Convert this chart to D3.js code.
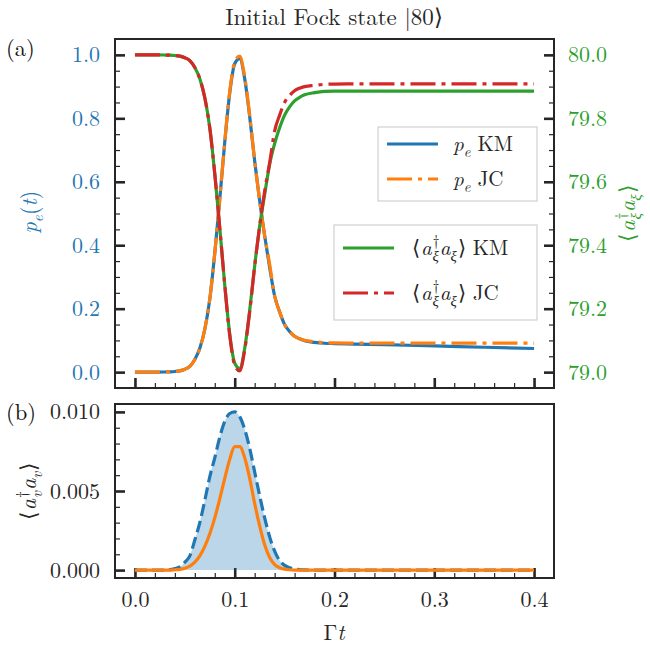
<!DOCTYPE html>
<html lang="en">
<head>
    <meta charset="UTF-8">
    <title>Initial Fock state |80⟩</title>
    <script src="https://d3js.org/d3.v7.min.js"></script>
    <style>
        body { margin: 0; background: white; }
        svg { display: block; }
        svg text { font-family: "Latin Modern Roman", "Liberation Serif", serif; }
        .domain { display: none; }
    </style>
</head>
<body>
    <svg width="650" height="647"></svg>
    <script>
        // time grid (Γt)
        const t = [0, 0.01, 0.02, 0.03, 0.035, 0.04, 0.045, 0.05, 0.055, 0.06, 0.065, 0.07, 0.075, 0.08,
            0.085, 0.09, 0.095, 0.1, 0.105, 0.11, 0.115, 0.12, 0.125, 0.13, 0.135, 0.14, 0.145, 0.15,
            0.155, 0.16, 0.165, 0.17, 0.18, 0.19, 0.2, 0.22, 0.25, 0.3, 0.35, 0.4];

        // (a) excited state population
        const peKM = [0, 0, 0, 0.0005, 0.001, 0.002, 0.004, 0.009, 0.018, 0.04, 0.075, 0.135, 0.23, 0.375,
            0.545, 0.725, 0.88, 0.972, 0.988, 0.925, 0.805, 0.665, 0.54, 0.43, 0.33, 0.24, 0.19, 0.15,
            0.128, 0.113, 0.105, 0.099, 0.094, 0.091, 0.09, 0.0885, 0.0865, 0.0825, 0.0785, 0.0745];
        const peJC = [0, 0, 0, 0.0005, 0.001, 0.002, 0.004, 0.009, 0.018, 0.04, 0.075, 0.135, 0.23, 0.375,
            0.545, 0.725, 0.885, 0.978, 0.996, 0.93, 0.81, 0.665, 0.54, 0.43, 0.34, 0.24, 0.19, 0.15,
            0.128, 0.113, 0.105, 0.1, 0.096, 0.093, 0.092, 0.0915, 0.0915, 0.0915, 0.0915, 0.0915];

        // (a) cavity photon number
        const nKM = [80, 80, 80, 79.9995, 79.999, 79.998, 79.996, 79.991, 79.982, 79.96, 79.925, 79.865, 79.77,
            79.625, 79.455, 79.275, 79.12, 79.028, 79.012, 79.075, 79.195, 79.335, 79.46, 79.56, 79.655,
            79.72, 79.77, 79.81, 79.836, 79.855, 79.866, 79.874, 79.881, 79.885, 79.886, 79.886, 79.886,
            79.886, 79.886, 79.886];
        const nJC = [80, 80, 80, 79.9995, 79.999, 79.998, 79.996, 79.991, 79.982, 79.96, 79.925, 79.865, 79.77,
            79.625, 79.455, 79.275, 79.115, 79.022, 79.004, 79.07, 79.19, 79.335, 79.46, 79.57, 79.66,
            79.76, 79.81, 79.85, 79.872, 79.887, 79.895, 79.9, 79.904, 79.907, 79.908, 79.9085, 79.9085,
            79.9085, 79.9085, 79.9085];

        // (b) photons in the v mode
        const nvKM = [0, 0, 0, 0, 0.00003, 0.0001, 0.0002, 0.0005, 0.0009, 0.0019, 0.003, 0.0044, 0.0059,
            0.0071, 0.0084, 0.0094, 0.0099, 0.01, 0.0097, 0.0089, 0.0077, 0.0062, 0.0047, 0.0033, 0.0021,
            0.0012, 0.0006, 0.0003, 0.00015, 0.00007, 0.00003, 0.00001, 0, 0, 0, 0, 0, 0, 0, 0];
        const nvJC = [0, 0, 0, 0, 0, 0.00002, 0.00005, 0.00012, 0.00025, 0.0005, 0.0009, 0.0015, 0.0023,
            0.0033, 0.0045, 0.0058, 0.007, 0.0078, 0.0078, 0.0071, 0.0058, 0.0042, 0.0028, 0.0016, 0.0008,
            0.00035, 0.00015, 0.00006, 0.00002, 0, 0, 0, 0, 0, 0, 0, 0, 0, 0, 0];

        const xTicks = [0, 0.1, 0.2, 0.3, 0.4];
        const peTicks = [0, 0.2, 0.4, 0.6, 0.8, 1.0];
        const nTicks = [79.0, 79.2, 79.4, 79.6, 79.8, 80.0];
        const nvTicks = [0, 0.005, 0.01];

        const C = { blue: "#1f77b4", orange: "#ff7f0e", green: "#2ca02c", red: "#d62728", ink: "#262626" };
        const FS = 22;
        const SERIF = "'Latin Modern Roman', 'Liberation Serif', serif";

        const svg = d3.select("svg");
        const L = 115, R = 554;
        const top1 = 39, bot1 = 388, top2 = 404, bot2 = 578;

        const x = d3.scaleLinear().domain([-0.02, 0.42]).range([L, R]);
        const yPe = d3.scaleLinear().domain([-0.05, 1.05]).range([bot1, top1]);
        const yN = d3.scaleLinear().domain([78.95, 80.05]).range([bot1, top1]);
        const yV = d3.scaleLinear().domain([-0.0005, 0.0105]).range([bot2, top2]);

        const xMinor = d3.range(0, 0.4001, 0.02);

        // inward ticks (axis flipped to the inside), labels drawn by a second axis
        function ticks(axisFn, scale, major, minor, pos) {
            const g = svg.append("g").attr("transform", pos);
            g.append("g").call(axisFn(scale).tickValues(minor).tickSize(5).tickFormat(""))
                .selectAll("line").attr("stroke", C.ink).attr("stroke-width", 1.2);
            g.append("g").call(axisFn(scale).tickValues(major).tickSize(10).tickFormat(""))
                .selectAll("line").attr("stroke", C.ink).attr("stroke-width", 2.6);
            return g;
        }
        function labels(axisFn, scale, major, pos, fmt, color, pad) {
            const g = svg.append("g").attr("transform", pos)
                .call(axisFn(scale).tickValues(major).tickSize(0).tickPadding(pad).tickFormat(fmt));
            g.selectAll("text").style("font-family", SERIF).style("font-size", FS + "px").attr("fill", color);
            return g;
        }

        // ---- panel (a) ----
        ticks(d3.axisTop, x, xTicks, xMinor, `translate(0,${bot1})`);
        ticks(d3.axisRight, yPe, peTicks, d3.range(0, 1.0001, 0.05), `translate(${L},0)`);
        ticks(d3.axisLeft, yN, nTicks, d3.range(79, 80.0001, 0.05), `translate(${R},0)`);
        labels(d3.axisLeft, yPe, peTicks, `translate(${L},0)`, d3.format(".1f"), C.blue, 15);
        labels(d3.axisRight, yN, nTicks, `translate(${R},0)`, d3.format(".1f"), C.green, 14);

        svg.append("clipPath").attr("id", "clipA").append("rect")
            .attr("x", L).attr("y", top1).attr("width", R - L).attr("height", bot1 - top1);
        svg.append("clipPath").attr("id", "clipB").append("rect")
            .attr("x", L).attr("y", top2).attr("width", R - L).attr("height", bot2 - top2);

        const gA = svg.append("g").attr("clip-path", "url(#clipA)");
        const linePe = d3.line().x((d, i) => x(t[i])).y(d => yPe(d)).curve(d3.curveMonotoneX);
        const lineN = d3.line().x((d, i) => x(t[i])).y(d => yN(d)).curve(d3.curveMonotoneX);

        gA.append("path").attr("d", linePe(peKM)).attr("fill", "none")
            .attr("stroke", C.blue).attr("stroke-width", 3.2);
        gA.append("path").attr("d", linePe(peJC)).attr("fill", "none")
            .attr("stroke", C.orange).attr("stroke-width", 3.2).attr("stroke-dasharray", "25,6,4,6");
        gA.append("path").attr("d", lineN(nKM)).attr("fill", "none")
            .attr("stroke", C.green).attr("stroke-width", 3.2);
        gA.append("path").attr("d", lineN(nJC)).attr("fill", "none")
            .attr("stroke", C.red).attr("stroke-width", 3.2).attr("stroke-dasharray", "25,6,4,6");

        svg.append("rect").attr("x", L).attr("y", top1).attr("width", R - L).attr("height", bot1 - top1)
            .attr("fill", "none").attr("stroke", C.ink).attr("stroke-width", 2);

        // ---- panel (b) ----
        ticks(d3.axisTop, x, xTicks, xMinor, `translate(0,${bot2})`);
        ticks(d3.axisRight, yV, nvTicks, d3.range(0, 0.01001, 0.001), `translate(${L},0)`);
        labels(d3.axisLeft, yV, nvTicks, `translate(${L},0)`, d3.format(".3f"), C.ink, 15);
        labels(d3.axisBottom, x, xTicks, `translate(0,${bot2})`, d3.format(".1f"), C.ink, 13);

        const gB = svg.append("g").attr("clip-path", "url(#clipB)");
        const area = d3.area().x((d, i) => x(t[i])).y0(yV(0)).y1(d => yV(d)).curve(d3.curveMonotoneX);
        const lineV = d3.line().x((d, i) => x(t[i])).y(d => yV(d)).curve(d3.curveMonotoneX);
        gB.append("path").attr("d", area(nvKM)).attr("fill", C.blue).attr("fill-opacity", 0.3);
        gB.append("path").attr("d", lineV(nvKM)).attr("fill", "none")
            .attr("stroke", C.blue).attr("stroke-width", 3.2).attr("stroke-dasharray", "12,5");
        gB.append("path").attr("d", lineV(nvJC)).attr("fill", "none")
            .attr("stroke", C.orange).attr("stroke-width", 3.2);

        svg.append("rect").attr("x", L).attr("y", top2).attr("width", R - L).attr("height", bot2 - top2)
            .attr("fill", "none").attr("stroke", C.ink).attr("stroke-width", 2);

        // ---- math-ish text helper ----
        // parts: [text, style, dx] ; style: i italic, sub, sup
        function math(g, parts, size) {
            const txt = g.append("text").style("font-family", SERIF).attr("font-size", size);
            let level = 0;
            parts.forEach(p => {
                const [s, st = ""] = p;
                const sp = txt.append("tspan").text(s);
                if (st.includes("i")) sp.attr("font-style", "italic");
                let target = 0, fs = size;
                if (st.includes("sub")) { target = 0.28 * size; fs = 0.7 * size; }
                if (st.includes("sup")) { target = -0.42 * size; fs = 0.72 * size; }
                sp.attr("font-size", fs);
                if (target !== level) { sp.attr("dy", target - level); level = target; }
                if (p[2] !== undefined) sp.attr("dx", p[2]);
            });
            return txt;
        }

        // y labels
        const lab1 = svg.append("g").attr("transform", "translate(37,212) rotate(-90)");
        math(lab1, [["p", "i"], ["e", "i sub"], ["(", ""], ["t", "i"], [")", ""]], 22)
            .attr("text-anchor", "middle").attr("fill", C.blue);

        const braket = [["⟨", ""], ["a", "i", 1], ["†", "sup", 1], ["ξ", "i sub", -7], ["a", "i", 1], ["ξ", "i sub"], ["⟩", "", 1]];
        const lab2 = svg.append("g").attr("transform", "translate(635,213) rotate(-90)");
        math(lab2, braket, 22).attr("text-anchor", "middle").attr("fill", C.green);

        const lab3 = svg.append("g").attr("transform", "translate(36,491) rotate(-90)");
        math(lab3, [["⟨", ""], ["a", "i", 1], ["†", "sup", 1], ["v", "i sub", -7], ["a", "i", 1], ["v", "i sub"], ["⟩", "", 1]], 22)
            .attr("text-anchor", "middle").attr("fill", C.ink);

        // x label
        math(svg.append("g").attr("transform", "translate(334,640)"), [["Γ", ""], ["t", "i"]], 22)
            .attr("text-anchor", "middle").attr("fill", C.ink);

        // title and panel tags
        svg.append("text").attr("x", 334).attr("y", 25).attr("text-anchor", "middle").style("font-family", SERIF)
            .attr("font-size", 23).attr("fill", C.ink).text("Initial Fock state |80⟩");
        svg.append("text").attr("x", 6).attr("y", 56).attr("font-size", 22.5).style("font-family", SERIF)
            .attr("fill", "#111").text("(a)");
        svg.append("text").attr("x", 6).attr("y", 420).attr("font-size", 22.5).style("font-family", SERIF)
            .attr("fill", "#111").text("(b)");

        // ---- legends ----
        function legend(lx, ly, w, h, rows) {
            const g = svg.append("g");
            g.append("rect").attr("x", lx).attr("y", ly).attr("width", w).attr("height", h)
                .attr("fill", "white").attr("stroke", "#d0d0d0").attr("stroke-width", 1.2);
            rows.forEach((r, i) => {
                const yy = ly + (h > 80 ? 23 : 17) + i * (h > 80 ? 45 : 35);
                g.append("line").attr("x1", lx + 9).attr("x2", lx + 60).attr("y1", yy).attr("y2", yy)
                    .attr("stroke", r.color).attr("stroke-width", 3.2).attr("stroke-dasharray", r.dash || null);
                const tg = g.append("g").attr("transform", `translate(${lx + r.tx},${yy + 7})`);
                math(tg, r.parts, 21).attr("fill", C.ink);
            });
        }
        legend(378, 127, 159, 74, [
            { color: C.blue, parts: [["p", "i"], ["e", "i sub"], ["  KM", ""]], tx: 75 },
            { color: C.orange, dash: "25,6,4,6", parts: [["p", "i"], ["e", "i sub"], ["  JC", ""]], tx: 75 }
        ]);
        legend(334, 225, 203, 95, [
            { color: C.green, parts: braket.concat([[" KM", "", 0]]), tx: 78 },
            { color: C.red, dash: "25,6,4,6", parts: braket.concat([[" JC", "", 0]]), tx: 78 }
        ]);
    </script>
</body>
</html>
